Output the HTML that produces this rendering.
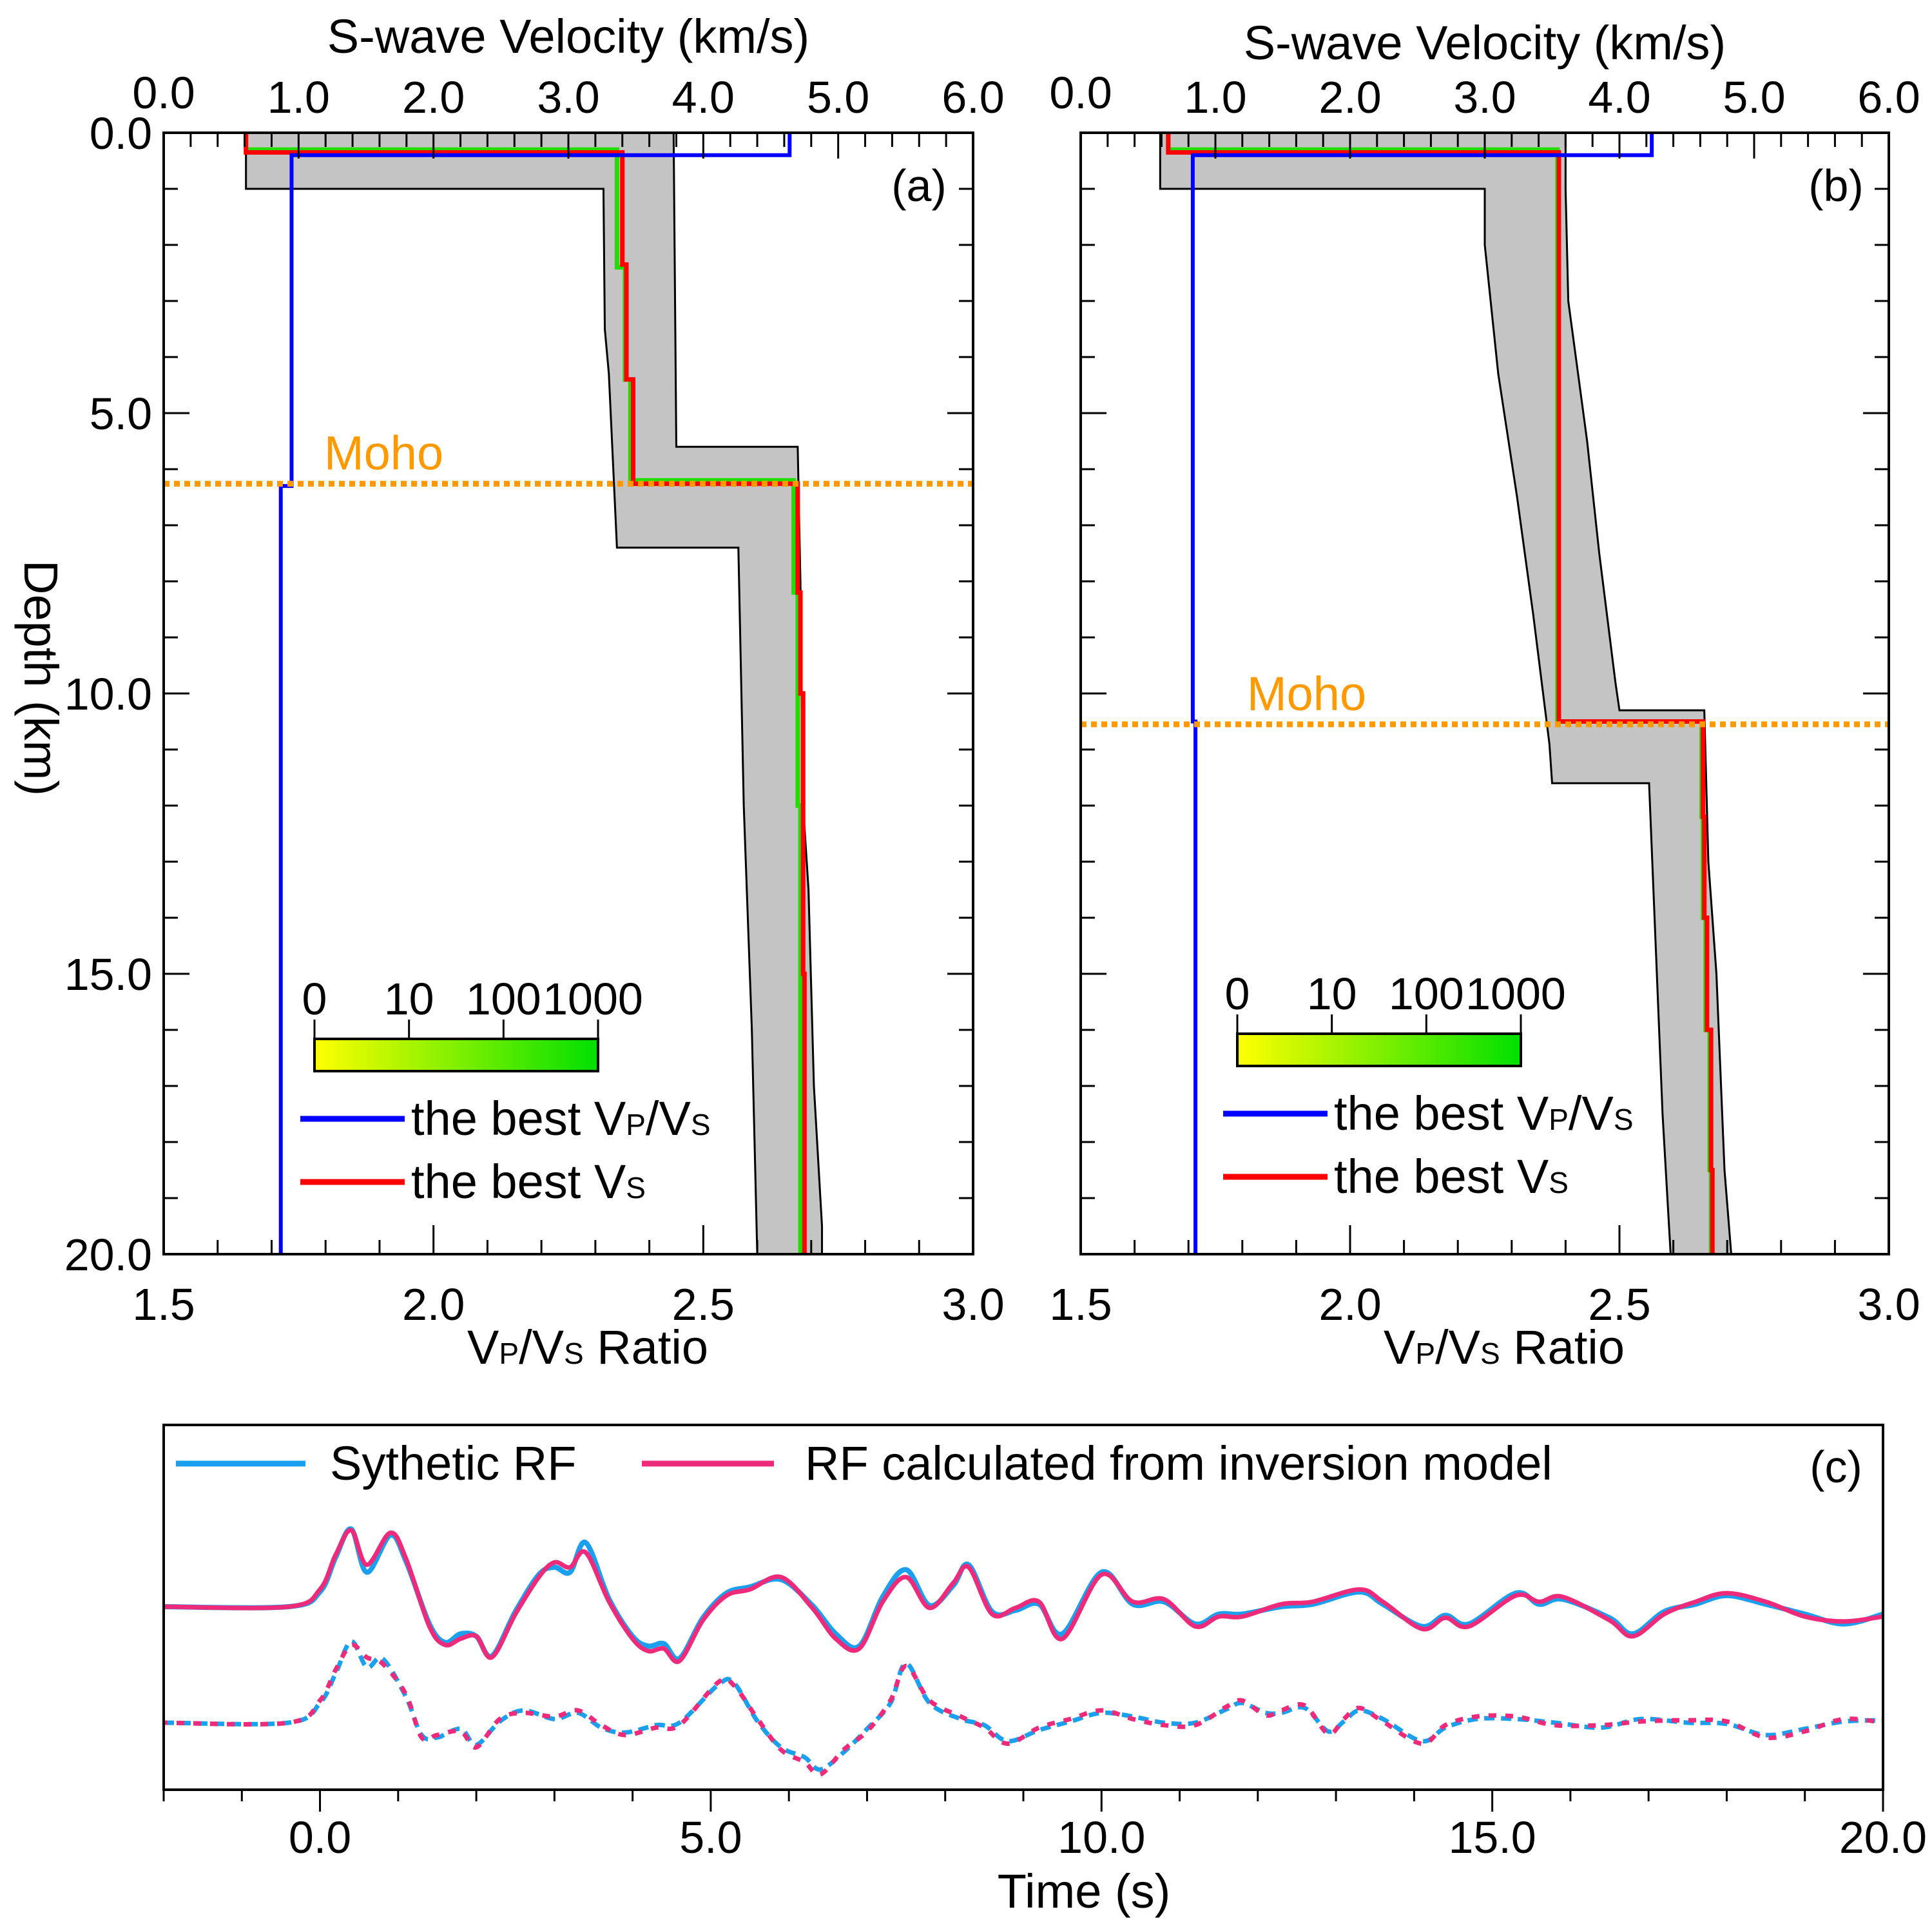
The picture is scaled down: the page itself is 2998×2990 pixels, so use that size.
<!DOCTYPE html>
<html><head><meta charset="utf-8"><style>
html,body{margin:0;padding:0;background:#fff}
svg{display:block}
text{font-family:"Liberation Sans",Arial,sans-serif;fill:#000}
</style></head><body>
<svg id="fig" xmlns="http://www.w3.org/2000/svg" width="2998" height="2990" viewBox="0 0 2998 2990">
<defs>
<linearGradient id="cbar" x1="0" x2="1" y1="0" y2="0"><stop offset="0" stop-color="#ffff00"/><stop offset="1" stop-color="#00e000"/></linearGradient>
</defs>
<g id="pa"></g>
<g id="pb"></g>
<g id="pc"></g>
</svg>
<script>
// ---------- Panel (a) data ----------
const aRedDepth=[0,0.35,2.35,4.4,6.26,8.2,10,15,20];
const aRedVs=[0.61,3.40,3.43,3.48,4.70,4.72,4.74,4.75];
const aGreenDepth=[0,0.3,2.4,4.4,6.2,8.2,12,20];
const aGreenVs=[0.61,3.36,3.42,3.46,4.67,4.70,4.72];
const aVpvsDepth=[0,0.4,6.3,20];
const aVpvs=[2.66,1.737,1.717];
const aEnvLeftDepth=[0,1.0,1.0,3.5,4.3,7.4,7.4,12,16,20];
const aEnvLeftVs=[0.61,0.61,3.26,3.27,3.30,3.36,4.26,4.30,4.36,4.40];
const aEnvRightDepth=[0,5.6,5.6,8,12,13.5,17,19.5,20];
const aEnvRightVs=[3.78,3.80,4.70,4.72,4.74,4.78,4.82,4.88,4.88];
const aMoho=6.26;
// ---------- Panel (b) data ----------
const bRedDepth=[0,0.35,10.5,12.2,14,16,18.5,20];
const bRedVs=[0.65,3.55,4.62,4.63,4.65,4.68,4.69];
const bGreenDepth=[0,0.3,10.5,12.2,14,16,18.5,20];
const bGreenVs=[0.65,3.54,4.61,4.62,4.64,4.67,4.68];
const bVpvsDepth=[0,0.4,10.5,20];
const bVpvs=[2.56,1.708,1.713];
const bEnvLeftDepth=[0,1,1,2,4.3,6.5,8.6,10.9,11.6,11.6,17.5,20];
const bEnvLeftVs=[0.59,0.59,3.0,3.0,3.1,3.24,3.36,3.48,3.5,4.22,4.32,4.38];
const bEnvRightDepth=[0,1,3,5.5,7.5,9.8,10.3,10.3,13,15,18.5,20];
const bEnvRightVs=[3.6,3.6,3.62,3.76,3.85,3.97,4.0,4.63,4.66,4.72,4.78,4.83];
const bMoho=10.55;
// ---------- Panel (c) data ----------
const solidPinkT=[-2,-0.4,0,0.2,0.4,0.6,0.9,1.1,1.4,1.6,1.8,2.0,2.2,2.5,2.8,3.0,3.2,3.4,3.7,4.0,4.2,4.4,4.6,4.9,5.2,5.5,5.9,6.3,6.6,6.9,7.2,7.5,7.8,8.1,8.3,8.6,8.9,9.2,9.5,10.0,10.4,10.8,11.2,11.5,11.8,12.3,12.7,13.3,13.6,14.1,14.4,14.7,15.3,15.6,15.9,16.5,16.8,17.2,17.6,18.0,18.5,19.0,19.5,20.0];
const solidPinkA=[0,0,14,42,62,34,60,39,-16,-31,-26,-24,-41,-6,24,36,32,44,4,-26,-36,-34,-44,-11,9,14,24,-1,-26,-34,4,24,-1,19,32,-6,-1,4,-26,26,4,6,-16,-8,-8,2,4,14,4,-18,-9,-16,9,4,8,-11,-24,-6,4,11,4,-8,-12,-8];
const solidBlueA=[0,0,12,40,63,28,58,37,-14,-29,-22,-24,-40,-4,26,32,28,52,6,-24,-32,-30,-42,-9,11,16,22,1,-22,-32,8,30,1,17,34,-4,-3,2,-22,28,2,4,-14,-6,-6,0,2,12,2,-16,-7,-14,11,2,6,-9,-22,-4,2,9,2,-6,-14,-6];
const dashT=[-2,-0.4,0,0.2,0.4,0.6,0.8,1.1,1.3,1.5,1.8,2.0,2.3,2.6,3.0,3.3,3.6,3.9,4.3,4.6,5.1,5.3,5.6,5.9,6.2,6.4,6.7,7.0,7.3,7.5,7.8,8.2,8.5,8.8,9.2,9.6,10.0,10.4,10.8,11.2,11.6,11.8,12.1,12.3,12.6,12.9,13.1,13.3,13.6,14.1,14.4,14.8,15.3,15.8,16.4,16.9,17.5,18.0,18.5,19.0,19.5,20.0];
const dashPinkA=[0,0,18,43,63,53,48,23,-12,-10,-7,-20,3,8,5,10,-2,-10,-4,-2,33,30,3,-22,-32,-42,-22,-7,18,46,18,5,-4,-17,-4,3,10,3,-2,-2,13,18,6,10,14,-9,3,12,1,-17,-2,5,5,-2,-2,1,2,1,-12,-7,3,0];
const dashBlueA=[0,0,16,40,66,45,52,21,-10,-12,-5,-18,1,10,3,8,-4,-8,-2,0,31,32,1,-20,-28,-38,-24,-5,16,48,16,3,-2,-15,-6,1,8,5,0,0,11,16,8,8,12,-7,1,10,3,-15,-4,3,3,0,-4,3,0,-1,-10,-5,1,2];
const timeTicks=[0,5,10,15,20];
const timeTickLabels=["0.0","5.0","10.0","15.0","20.0"];

const NS="http://www.w3.org/2000/svg";
const FS=70, FL=74;
function mk(parent,tag,attrs,txt){const e=document.createElementNS(NS,tag);for(const k in attrs)e.setAttribute(k,attrs[k]);if(txt!==undefined)e.textContent=txt;parent.appendChild(e);return e;}

function stepPath(depths,vals,xf,yf){
  let d="M"+xf(vals[0])+","+yf(depths[0]);
  for(let i=0;i<vals.length;i++){
    d+=" L"+xf(vals[i])+","+yf(depths[i])+" L"+xf(vals[i])+","+yf(depths[i+1]);
  }
  return d;
}

function depthPanel(g,cfg){
  const L=cfg.L,R=cfg.R,T=206,B=1946;
  const xVs=v=>L+(R-L)*v/6;
  const xR=r=>L+(R-L)*(r-1.5)/1.5;
  const yD=d=>T+(B-T)*d/20;
  let pts=[];
  for(let i=0;i<cfg.envLD.length;i++)pts.push(xVs(cfg.envLV[i])+","+yD(cfg.envLD[i]));
  for(let i=cfg.envRD.length-1;i>=0;i--)pts.push(xVs(cfg.envRV[i])+","+yD(cfg.envRD[i]));
  let env=mk(g,"polygon",{points:pts.join(" "),fill:"#c4c4c4",stroke:"#000","stroke-width":3});
  
  
  let gp=mk(g,"path",{d:stepPath(cfg.gD,cfg.gV,xVs,yD),fill:"none",stroke:"#22dd00","stroke-width":7});
  
  
  let rp=mk(g,"path",{d:stepPath(cfg.rD,cfg.rV,xVs,yD),fill:"none",stroke:"#ff0000","stroke-width":7});
  
  
  let bp=mk(g,"path",{d:stepPath(cfg.bD,cfg.bV,xR,yD),fill:"none",stroke:"#0000ff","stroke-width":6});
  
  
  let mh=mk(g,"line",{x1:L,x2:R,y1:yD(cfg.moho),y2:yD(cfg.moho),stroke:"#ff9900","stroke-width":9,"stroke-dasharray":"9 7"});
  
  
  let mt=mk(g,"text",{x:cfg.mohoX,y:yD(cfg.moho)-22,"font-size":FL,style:"fill:#ff9900"},"Moho");
  
  
  let fr=mk(g,"rect",{x:L,y:T,width:R-L,height:B-T,fill:"none",stroke:"#000","stroke-width":4});
  
  
  for(let i=0;i<=30;i++){const v=i*0.2,x=xVs(v),len=(i%5===0)?40:22;
    mk(g,"line",{x1:x,x2:x,y1:T,y2:T+len,stroke:"#000","stroke-width":3});}
  for(let i=0;i<=6;i++){
    let t=mk(g,"text",{x:xVs(i),y:i===0?168:175,"text-anchor":"middle","font-size":FS},i.toFixed(1));
    
    
  }
  let tt=mk(g,"text",{x:(L+R)/2,y:cfg.titleY,"text-anchor":"middle","font-size":FL},"S-wave Velocity (km/s)");
  
  
  for(let i=0;i<=15;i++){const r=1.5+i*0.1,x=xR(r),len=(i%5===0)?45:22;
    mk(g,"line",{x1:x,x2:x,y1:B,y2:B-len,stroke:"#000","stroke-width":3});}
  ["1.5","2.0","2.5","3.0"].forEach((s,i)=>{
    let t=mk(g,"text",{x:xR(1.5+i*0.5),y:2048,"text-anchor":"middle","font-size":FS},s);
    
    
  });
  let bt=mk(g,"text",{x:(L+R)/2+30,y:2116,"text-anchor":"middle","font-size":FL});
  bt.innerHTML='V<tspan font-size="46">P</tspan>/V<tspan font-size="46">S</tspan> Ratio';
  
  
  for(let d=0;d<=20;d++){const y=yD(d),len=(d%5===0)?40:22;
    mk(g,"line",{x1:L,x2:L+len,y1:y,y2:y,stroke:"#000","stroke-width":3});
    mk(g,"line",{x1:R,x2:R-len,y1:y,y2:y,stroke:"#000","stroke-width":3});}
  if(cfg.depthLabels){
    [0,5,10,15,20].forEach(d=>{
      let t=mk(g,"text",{x:L-18,y:yD(d)+25,"text-anchor":"end","font-size":FS},d.toFixed(1));
      
      
    });
    let yt=mk(g,"text",{x:0,y:0,"text-anchor":"middle","font-size":FL,transform:"translate(38,1052) rotate(90)"},"Depth (km)");
    
    
  }
  let pl=mk(g,"text",{x:cfg.labX,y:312,"text-anchor":"middle","font-size":FS},cfg.lab);
  
  
  const cx=cfg.cbX,cy=cfg.cbY,cw=440,ch=50;
  let cb=mk(g,"rect",{x:cx,y:cy,width:cw,height:ch,fill:"url(#cbar)",stroke:"#000","stroke-width":4});
  
  
  ["0","10","100","1000"].forEach((s,i)=>{const x=cx+i*cw/3;
    mk(g,"line",{x1:x,x2:x,y1:cy-30,y2:cy,stroke:"#000","stroke-width":3});
    let t=mk(g,"text",{x:i===0?x:(i===3?x-8:x),y:cy-38,"text-anchor":"middle","font-size":FS},s);
    
    });
  let l1=mk(g,"line",{x1:cx-22,x2:cx+140,y1:cfg.legY1,y2:cfg.legY1,stroke:"#0000ff","stroke-width":9});
  
  
  let t1=mk(g,"text",{x:cx+150,y:cfg.legY1+25,"font-size":FL});
  t1.innerHTML='the best V<tspan font-size="46">P</tspan>/V<tspan font-size="46">S</tspan>';
  
  
  let l2=mk(g,"line",{x1:cx-22,x2:cx+140,y1:cfg.legY2,y2:cfg.legY2,stroke:"#ff0000","stroke-width":9});
  
  
  let t2=mk(g,"text",{x:cx+150,y:cfg.legY2+25,"font-size":FL});
  t2.innerHTML='the best V<tspan font-size="46">S</tspan>';
  
  
}

depthPanel(document.getElementById('pa'),{L:254,R:1510,envLD:aEnvLeftDepth,envLV:aEnvLeftVs,envRD:aEnvRightDepth,envRV:aEnvRightVs,
  gD:aGreenDepth,gV:aGreenVs,rD:aRedDepth,rV:aRedVs,bD:aVpvsDepth,bV:aVpvs,moho:aMoho,mohoX:503,titleY:82,depthLabels:true,
  lab:"(a)",labX:1426,cbX:488,cbY:1612,legY1:1736,legY2:1834});
depthPanel(document.getElementById('pb'),{L:1677,R:2931,envLD:bEnvLeftDepth,envLV:bEnvLeftVs,envRD:bEnvRightDepth,envRV:bEnvRightVs,
  gD:bGreenDepth,gV:bGreenVs,rD:bRedDepth,rV:bRedVs,bD:bVpvsDepth,bV:bVpvs,moho:bMoho,mohoX:1935,titleY:92,depthLabels:false,
  lab:"(b)",labX:2849,cbX:1920,cbY:1604,legY1:1728,legY2:1826});

// ---------- Panel (c) ----------
(function(){
  const g=document.getElementById('pc');
  const L=254,R=2922,T=2211,B=2777;
  const xT=t=>L+(R-L)*(t+2)/22;
  const base1=2493,base2=2673,ys=1.912;
  const yA=(a,b)=>b-a*ys;
  function smooth(ts,as,base){
    const p=ts.map((t,i)=>[xT(t),yA(as[i],base)]);
    let d="M"+p[0][0]+","+p[0][1];
    for(let i=0;i<p.length-1;i++){
      const p0=p[Math.max(0,i-1)],p1=p[i],p2=p[i+1],p3=p[Math.min(p.length-1,i+2)];
      const c1x=p1[0]+(p2[0]-p0[0])/6,c1y=p1[1]+(p2[1]-p0[1])/6;
      const c2x=p2[0]-(p3[0]-p1[0])/6,c2y=p2[1]-(p3[1]-p1[1])/6;
      d+=" C"+c1x.toFixed(1)+","+c1y.toFixed(1)+" "+c2x.toFixed(1)+","+c2y.toFixed(1)+" "+p2[0].toFixed(1)+","+p2[1].toFixed(1);
    }
    return d;
  }
  let s1=mk(g,"path",{d:smooth(solidPinkT,solidBlueA,base1),fill:"none",stroke:"#1aa0ef","stroke-width":8});
  
  
  let s2=mk(g,"path",{d:smooth(solidPinkT,solidPinkA,base1),fill:"none",stroke:"#ee2a7b","stroke-width":7});
  
  
  let d1=mk(g,"path",{d:smooth(dashT,dashBlueA,base2),fill:"none",stroke:"#1aa0ef","stroke-width":7,"stroke-dasharray":"16 10"});
  
  
  let d2=mk(g,"path",{d:smooth(dashT,dashPinkA,base2),fill:"none",stroke:"#ee2a7b","stroke-width":7,"stroke-dasharray":"12 14","stroke-dashoffset":"6"});
  
  
  let fr=mk(g,"rect",{x:L,y:T,width:R-L,height:B-T,fill:"none",stroke:"#000","stroke-width":4});
  
  
  for(let t=-2;t<=20;t++){const x=xT(t),len=(t%5===0)?34:18;
    mk(g,"line",{x1:x,x2:x,y1:B,y2:B+len,stroke:"#000","stroke-width":3});}
  timeTicks.forEach((t,i)=>{
    let e=mk(g,"text",{x:xT(t),y:2875,"text-anchor":"middle","font-size":FS},timeTickLabels[i]);
    
    
  });
  let xt=mk(g,"text",{x:1682,y:2960,"text-anchor":"middle","font-size":FL},"Time (s)");
  
  
  let lb1=mk(g,"line",{x1:273,x2:474,y1:2271,y2:2271,stroke:"#1aa0ef","stroke-width":9});
  
  
  let lt1=mk(g,"text",{x:512,y:2296,"font-size":FL},"Sythetic RF");
  
  
  let lb2=mk(g,"line",{x1:996,x2:1201,y1:2271,y2:2271,stroke:"#ee2a7b","stroke-width":9});
  
  
  let lt2=mk(g,"text",{x:1249,y:2296,"font-size":FL},"RF calculated from inversion model");
  
  
  let pl=mk(g,"text",{x:2849,y:2300,"text-anchor":"middle","font-size":FS},"(c)");
  
  
})();
</script>
</body></html>
